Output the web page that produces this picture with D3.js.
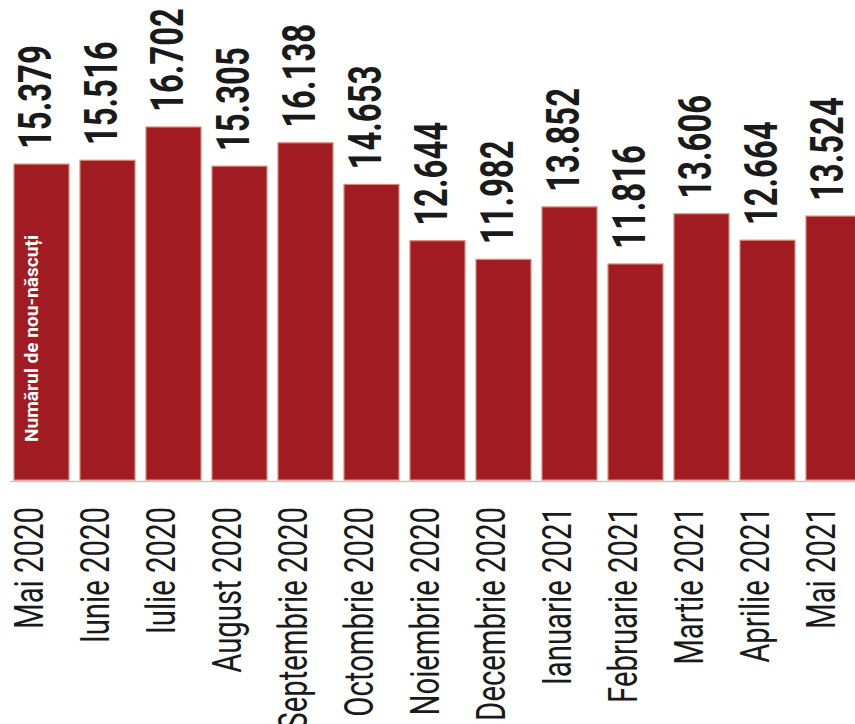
<!DOCTYPE html>
<html>
<head>
<meta charset="utf-8">
<script src="https://cdn.jsdelivr.net/npm/d3@7"></script>
<style>
  html, body { margin: 0; padding: 0; background: #ffffff; }
  svg { display: block; }
  text { font-family: Roboto, "Noto Sans", "DejaVu Sans", sans-serif; }
</style>
</head>
<body>
<svg id="chart" width="855" height="724"></svg>
<script>
const categories = ["Mai 2020", "Iunie 2020", "Iulie 2020", "August 2020", "Septembrie 2020", "Octombrie 2020",
  "Noiembrie 2020", "Decembrie 2020", "Ianuarie 2021", "Februarie 2021", "Martie 2021", "Aprilie 2021", "Mai 2021"];
const births = [15379, 15516, 16702, 15305, 16138, 14653, 12644, 11982, 13852, 11816, 13606, 12664, 13524];
const seriesLabel = "Numărul de nou-născuți";

const svg = d3.select("#chart");
const W = 855, H = 724;
const baseY = 480;

const x = d3.scaleBand().domain(categories).range([14, 861]).paddingInner(1/6).paddingOuter(0);
const y = d3.scaleLinear().domain([4110, 16702]).range([baseY, 127]);

const ro = d3.formatLocale({decimal: ",", thousands: ".", grouping: [3], currency: ["", ""]});
const fmt = ro.format(",d");

const data = categories.map((c, i) => ({c, v: births[i]}));

// helper: measure natural text length to get a condensing factor
function measure(str, size, weight) {
  const t = svg.append("text").attr("font-size", size).attr("font-weight", weight).text(str);
  const l = t.node().getComputedTextLength();
  t.remove();
  return l;
}
const valScale = 104 / measure("15.379", 46, "bold");
const catScale = 122 / measure("Mai 2020", 40, "normal");

// baseline
svg.append("line")
  .attr("x1", 10).attr("x2", W)
  .attr("y1", baseY + 1.5).attr("y2", baseY + 1.5)
  .attr("stroke", "#c8c8c8").attr("stroke-width", 1.5);

// bars
svg.append("g").selectAll("rect").data(data).join("rect")
  .attr("x", d => x(d.c))
  .attr("y", d => y(d.v))
  .attr("width", x.bandwidth())
  .attr("height", d => baseY - y(d.v))
  .attr("fill", "#a01c22")
  .attr("stroke", "#d98a72")
  .attr("stroke-width", 1.2);

// value labels
svg.append("g").selectAll("text").data(data).join("text")
  .attr("transform", d => `translate(${x(d.c) + x.bandwidth()/2 + 9},${y(d.v) - 15}) rotate(-90) scale(${valScale},1)`)
  .attr("text-anchor", "start")
  .attr("font-size", 46)
  .attr("font-weight", "bold")
  .attr("fill", "#1a1a1a")
  .text(d => fmt(d.v));

// category labels
svg.append("g").selectAll("text").data(data).join("text")
  .attr("transform", d => `translate(${x(d.c) + x.bandwidth()/2 + 1},${baseY + 27}) rotate(-90) scale(${catScale},1)`)
  .attr("text-anchor", "end")
  .attr("font-size", 40)
  .attr("fill", "#1a1a1a")
  .text(d => d.c);

// series label inside first bar
svg.append("text")
  .attr("transform", `translate(${x(categories[0]) + 24},${baseY - 38}) rotate(-90)`)
  .attr("text-anchor", "start")
  .attr("font-size", 19)
  .attr("font-weight", "bold")
  .attr("fill", "#ffffff")
  .attr("textLength", 207)
  .attr("lengthAdjust", "spacingAndGlyphs")
  .text(seriesLabel);
</script>
</body>
</html>
